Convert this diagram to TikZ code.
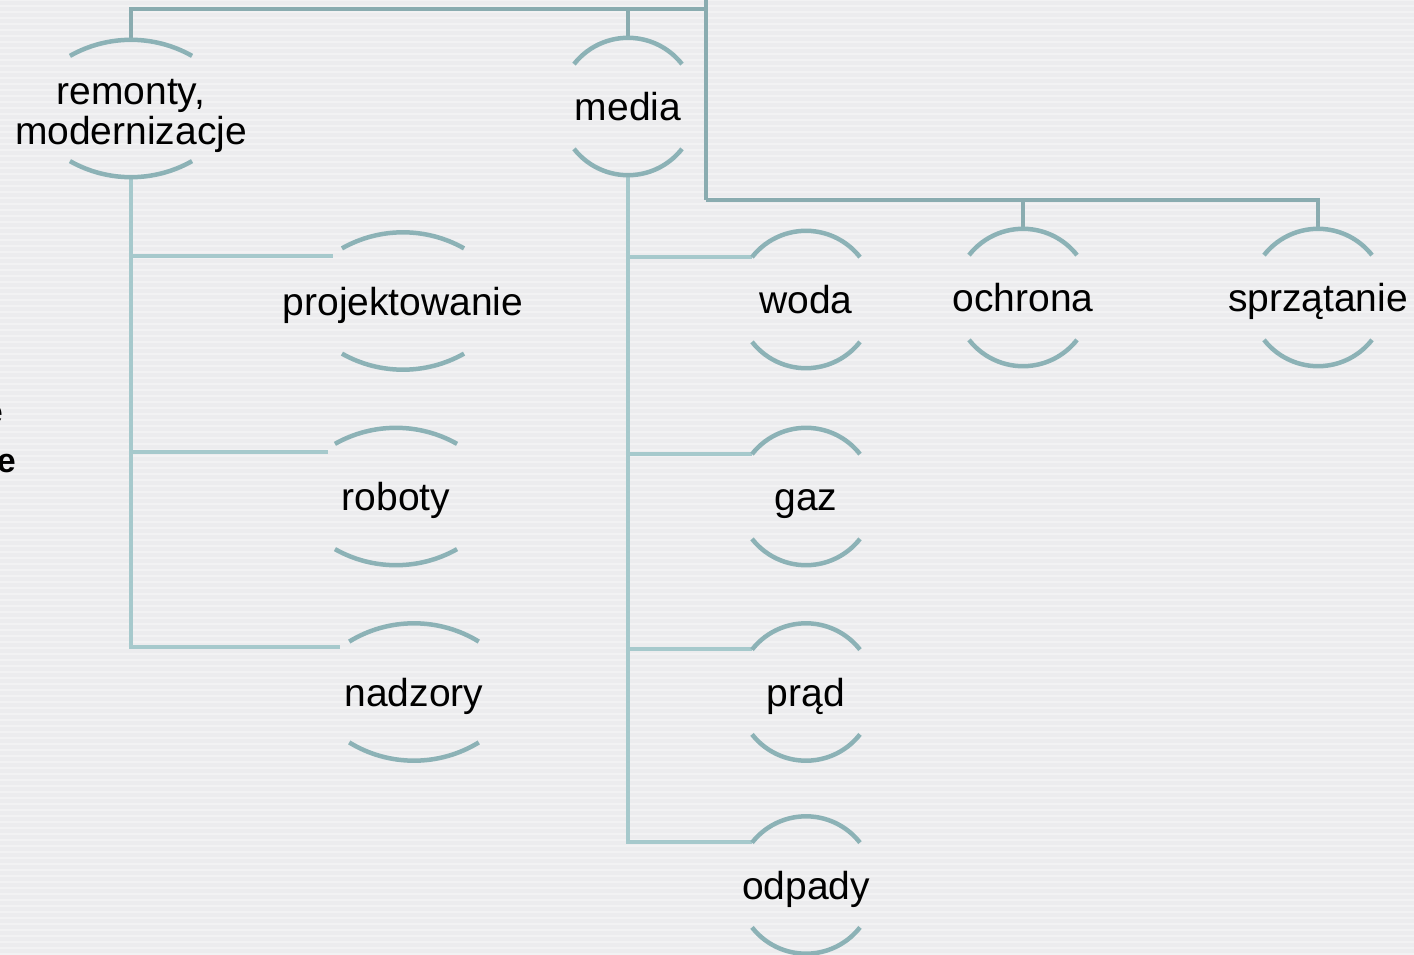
\documentclass[tikz,border=0pt]{standalone}
\usepackage{fontspec}
\setmainfont{Liberation Sans}
\usetikzlibrary{positioning}

\definecolor{capcol}{RGB}{140,178,182}
\definecolor{trunkcol}{RGB}{138,172,176}
\definecolor{twigcol}{RGB}{166,201,204}
\definecolor{bgcol}{RGB}{236,236,238}

% arcs above and below a label: #1 node, #2 half angle, #3 radius
\newcommand{\lensarcs}[3]{
  \draw[arcline] ([yshift=-#3pt]#1.north) ++({90+#2}:#3) arc[start angle={90+#2}, end angle={90-#2}, radius=#3];
  \draw[arcline] ([yshift=#3pt]#1.south) ++({270-#2}:#3) arc[start angle={270-#2}, end angle={270+#2}, radius=#3];
}

\begin{document}
\begin{tikzpicture}[x=1pt, y=1pt]

\tikzstyle{lbl}=[
    inner sep=0pt,
    minimum height=137pt,
    text height=28pt,
    text depth=0pt,
    font=\fontsize{39}{40}\selectfont
]
\tikzstyle{arcline}=[draw=capcol, line width=4.5pt]
\tikzstyle{trunk}=[draw=trunkcol, line width=4pt]
\tikzstyle{twig}=[draw=twigcol, line width=4pt]

\useasboundingbox (0,0) rectangle (1414,-955);
\fill[bgcol] (0,0) rectangle (1414,-955);
\foreach \y in {0,6,...,954}
    \draw[white, opacity=.35, line width=2.5pt] (0,-\y) -- (1414,-\y);

\node[lbl, align=center, text height=72pt, text depth=0pt] (Rem) at (131,-108.5) {remonty,\\modernizacje};
\node[lbl] (Med) at (628,-106.5) {media};
\node[lbl] (Proj) at (403,-301) {projektowanie};
\node[lbl] (Rob) at (396,-496.5) {roboty};
\node[lbl] (Nadz) at (414,-692) {nadzory};
\node[lbl] (Woda) at (806,-299.5) {woda};
\node[lbl] (Gaz) at (806,-496.5) {gaz};
\node[lbl] (Prad) at (806,-692) {prąd};
\node[lbl] (Odp) at (806,-885) {odpady};
\node[lbl] (Ochr) at (1023,-297.5) {ochrona};
\node[lbl] (Sprz) at (1318,-297.5) {sprzątanie};

\node[anchor=base east, inner sep=0pt, font=\fontsize{34}{34}\selectfont\bfseries] (Frag1) at (3,-423) {e};
\node[anchor=base east, inner sep=0pt, font=\fontsize{34}{34}\selectfont\bfseries] (Frag2) at (16,-472) {e};

\coordinate (Up) at (706,5);
\coordinate (Top) at (706,-9);
\coordinate (Hub) at (706,-200);

\draw[trunk] (Up) -- (Hub);
\draw[trunk] (Rem.north) |- (Top);
\draw[trunk] (Med.north) |- (Top);
\draw[trunk] (Hub) -| (Ochr.north);
\draw[trunk] (Hub) -| (Sprz.north);

\foreach \n/\dx in {Proj/-70, Rob/-68, Nadz/-74}
    \draw[twig] (Rem.south) |- ([shift={(\dx,-24)}]\n.north);
\foreach \n in {Woda, Gaz, Prad, Odp}
    \draw[twig] (Med.south) |- ([shift={(-54,-26)}]\n.north);

\foreach \n in {Med, Woda, Gaz, Prad, Odp, Ochr, Sprz}
    \lensarcs{\n}{52}{68.5};
\foreach \n in {Rem, Proj, Rob}
    \lensarcs{\n}{29.5}{124};
\lensarcs{Nadz}{31.5}{124};

\end{tikzpicture}
\end{document}
